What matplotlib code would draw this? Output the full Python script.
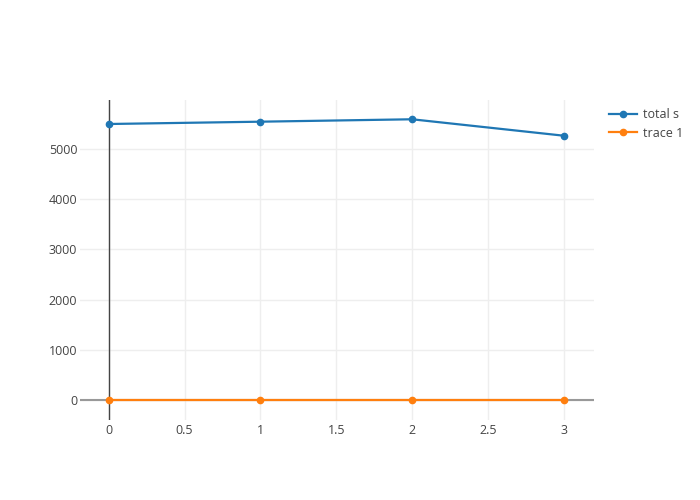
import numpy as np
import matplotlib.pyplot as plt

x = [0, 1, 2, 3]
total_s = [5498, 5544, 5592, 5265]
trace_1 = [8, 8, 8, 8]

plt.rcParams['font.family'] = ['Open Sans', 'DejaVu Sans']

fig = plt.figure(figsize=(7, 5), dpi=100)
ax = fig.add_axes([80 / 700, 80 / 500, 514 / 700, 320 / 500])

ax.plot(x, total_s, color='#1f77b4', lw=1.6, marker='o', ms=4.5, label='total s', zorder=3)
ax.plot(x, trace_1, color='#ff7f0e', lw=1.6, marker='o', ms=4.5, label='trace 1', zorder=3)

ax.set_xlim(-0.19, 3.2)
ax.set_ylim(-398, 5976)
ax.set_xticks([0, 0.5, 1, 1.5, 2, 2.5, 3])
ax.set_xticklabels(['0', '0.5', '1', '1.5', '2', '2.5', '3'])
ax.set_yticks([0, 1000, 2000, 3000, 4000, 5000])

ax.grid(color='#eeeeee', lw=1)
ax.set_axisbelow(True)
for s in ax.spines.values():
    s.set_visible(False)
ax.axhline(0, color='#999999', lw=1.5, zorder=1)
ax.axvline(0, color='#444444', lw=1, zorder=1)
ax.tick_params(length=0, labelsize=9, colors='#444444')
ax.tick_params(axis='x', pad=3)
ax.tick_params(axis='y', pad=2)

fig.legend(loc='upper left', bbox_to_anchor=(609 / 700, 1 - 108 / 500), frameon=False,
           fontsize=9, labelcolor='#444444', handlelength=2.2, borderaxespad=0,
           borderpad=0, handletextpad=0.5, labelspacing=0.45)

fig.savefig('out.png')
